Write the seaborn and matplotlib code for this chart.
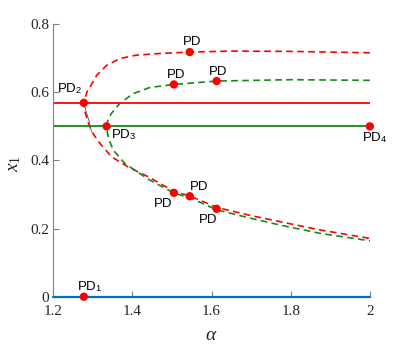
import numpy as np
import pandas as pd
import seaborn as sns
import matplotlib.pyplot as plt
from matplotlib.ticker import FormatStrFormatter

# Red period-doubling branch (upper end at alpha=2 -> fold -> lower end)
red_alpha = [2.0, 1.8, 1.65, 1.545, 1.47, 1.41, 1.368, 1.335, 1.31, 1.293, 1.285,
             1.2775, 1.281, 1.290, 1.300, 1.318, 1.347, 1.389, 1.44, 1.507, 1.545,
             1.613, 1.70, 1.774, 1.874, 2.0]
red_x1 = [0.716, 0.720, 0.721, 0.718, 0.714, 0.709, 0.699, 0.679, 0.650, 0.616, 0.600,
          0.569, 0.540, 0.505, 0.480, 0.450, 0.411, 0.381, 0.352, 0.308, 0.296,
          0.262, 0.238, 0.220, 0.196, 0.171]

# Green branch
green_alpha = [2.0, 1.8, 1.613, 1.505, 1.444, 1.402, 1.368, 1.347, 1.338, 1.335,
               1.337, 1.343, 1.352, 1.381, 1.44, 1.507, 1.545, 1.613, 1.70, 1.774,
               1.874, 2.0]
green_x1 = [0.635, 0.637, 0.633, 0.623, 0.614, 0.596, 0.567, 0.538, 0.518, 0.500,
            0.480, 0.455, 0.430, 0.391, 0.345, 0.303, 0.291, 0.255, 0.230, 0.210,
            0.186, 0.164]

# thin gray segment near the red fold
gray_alpha = [1.2775, 1.290, 1.297]
gray_x1 = [0.567, 0.518, 0.484]

# horizontal fixed-point lines
line_alpha = [1.2, 2.0]
red_level = 0.569
green_level = 0.5
blue_level = 0.0

# PD points
pd_alpha = [1.2775, 1.2775, 1.335, 2.0, 1.545, 1.505, 1.613, 1.505, 1.545, 1.613]
pd_x1 = [0.0, 0.569, 0.5, 0.5, 0.718, 0.623, 0.633, 0.305, 0.295, 0.258]

# labels, placed at left baseline
lab_text = ['PD$_\\mathsf{1}$', 'PD$_\\mathsf{2}$', 'PD$_\\mathsf{3}$', 'PD$_\\mathsf{4}$',
            'PD', 'PD', 'PD', 'PD', 'PD', 'PD']
lab_alpha = [1.259, 1.209, 1.347, 1.979, 1.527, 1.486, 1.594, 1.455, 1.545, 1.569]
lab_x1 = [0.018, 0.599, 0.465, 0.455, 0.738, 0.641, 0.650, 0.264, 0.313, 0.215]

sns.set_style('ticks')
plt.rcParams['font.family'] = 'serif'
plt.rcParams['font.serif'] = ['Liberation Serif', 'DejaVu Serif']
plt.rcParams['mathtext.fontset'] = 'custom'
plt.rcParams['mathtext.rm'] = 'Liberation Serif'
plt.rcParams['mathtext.it'] = 'Liberation Serif:italic'
plt.rcParams['mathtext.sf'] = 'Liberation Sans'

fig = plt.figure(figsize=(4.06, 3.45), dpi=100)
ax = fig.add_axes([0.131, 0.140, 0.780, 0.790])

red = '#ff0000'
green = '#158a15'
blue = '#0072bd'

dash = (0, (4, 2.6))
df_red = pd.DataFrame({'alpha': red_alpha, 'x1': red_x1})
df_green = pd.DataFrame({'alpha': green_alpha, 'x1': green_x1})
sns.lineplot(data=df_red, x='alpha', y='x1', sort=False, estimator=None,
             color=red, lw=1.2, linestyle=dash, ax=ax)
sns.lineplot(data=df_green, x='alpha', y='x1', sort=False, estimator=None,
             color=green, lw=1.2, linestyle=dash, ax=ax)
sns.lineplot(x=gray_alpha, y=gray_x1, sort=False, estimator=None,
             color='#555555', lw=0.6, ax=ax)

sns.lineplot(x=line_alpha, y=[red_level] * 2, color=red, lw=1.3, ax=ax)
sns.lineplot(x=line_alpha, y=[green_level] * 2, color=green, lw=1.3, ax=ax)
sns.lineplot(x=line_alpha, y=[blue_level] * 2, color=blue, lw=1.6, ax=ax, clip_on=False, zorder=3)

sns.scatterplot(x=pd_alpha, y=pd_x1, color=red, s=36, edgecolor='none',
                ax=ax, clip_on=False, zorder=4)

for t, a, v in zip(lab_text, lab_alpha, lab_x1):
    ax.text(a, v, t, family='Liberation Sans', fontsize=9.5, ha='left', va='baseline', color='black')

ax.set_xlim(1.2, 2.0)
ax.set_ylim(0, 0.8)
ax.set_xticks([1.2, 1.4, 1.6, 1.8, 2.0])
ax.set_yticks([0, 0.2, 0.4, 0.6, 0.8])
ax.xaxis.set_major_formatter(FormatStrFormatter('%g'))
ax.yaxis.set_major_formatter(FormatStrFormatter('%g'))
ax.tick_params(direction='in', length=4, width=0.8, color='#808080',
               labelsize=11, labelcolor='#262626')
ax.tick_params(axis='x', pad=6)
ax.tick_params(axis='y', pad=3)
for s in ['top', 'right']:
    ax.spines[s].set_visible(False)
for s in ['left', 'bottom']:
    ax.spines[s].set_color('#808080')
    ax.spines[s].set_linewidth(0.8)

ax.set_xlabel('$\\alpha$', fontsize=14)
ax.set_ylabel('$x_1$', fontsize=14)
ax.xaxis.set_label_coords(0.5, -0.11)
ax.yaxis.set_label_coords(-0.095, 0.49)

fig.savefig('out.png', dpi=100)
